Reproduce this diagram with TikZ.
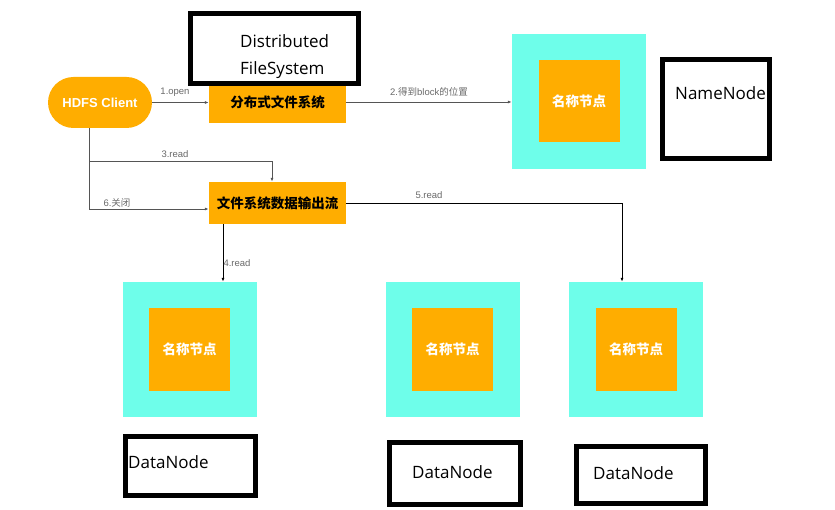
\documentclass[tikz,border=0pt]{standalone}
\usepackage{fontspec}
\setmainfont{Liberation Sans}
\newfontfamily\cjk{Noto Sans CJK SC}
\newfontfamily\tagfont{Open Sans}
\usetikzlibrary{positioning,arrows.meta}

\definecolor{hdfsorange}{RGB}{255,173,0}
\definecolor{hdfscyan}{RGB}{110,254,234}
\definecolor{linegray}{RGB}{85,85,85}
\definecolor{labelgray}{RGB}{105,105,105}

\tikzstyle{client} = [rectangle, rounded corners=25.5pt, fill=hdfsorange, text=white, inner sep=0pt, minimum width=104pt, minimum height=51pt, font=\fontsize{13}{15}\selectfont\bfseries]
\tikzstyle{proc} = [rectangle, fill=hdfsorange, inner sep=0pt, minimum width=137pt, minimum height=42pt, font=\fontsize{13.5}{16}\selectfont\cjk\bfseries]
\tikzstyle{outer} = [rectangle, fill=hdfscyan, inner sep=0pt, minimum width=134pt, minimum height=135pt]
\tikzstyle{inner} = [rectangle, fill=hdfsorange, text=white, inner sep=0pt, minimum width=81pt, minimum height=82pt, font=\fontsize{13.5}{16}\selectfont\cjk\bfseries]
\tikzstyle{tag} = [draw, rectangle, line width=5pt, fill=white, inner sep=0pt]
\tikzstyle{tagtext} = [anchor=west, inner sep=0pt, font=\tagfont\fontsize{17}{20}\selectfont]
\tikzstyle{lbl} = [inner sep=0pt, text=labelgray, font=\fontsize{9.5}{11}\selectfont]
\tikzstyle{flow} = [->, line width=.8pt]

\begin{document}
\begin{tikzpicture}[x=1pt,y=-1pt,>={Latex[length=4pt,width=3pt]}]
  \useasboundingbox (0,0) rectangle (835,510);

  % top row
  \node [client] (client) at (100,102.5) {HDFS Client};
  \node [proc] (fs) at (277.5,102) {分布式文件系统};
  \node [proc] (out) at (277.5,203) {文件系统数据输出流};

  \node [outer] (nn) at (579,101.5) {};
  \node [inner] (nn_in) at (nn) {名称节点};

  % data nodes
  \node [outer] (dn1) at (189.5,349.5) {};
  \node [outer, right of=dn1, node distance=263pt] (dn2) {};
  \node [outer, right of=dn2, node distance=183.5pt] (dn3) {};
  \node [inner] (dn1_in) at (dn1) {名称节点};
  \node [inner] (dn2_in) at (dn2) {名称节点};
  \node [inner] (dn3_in) at (dn3) {名称节点};

  % black tags
  \node [tag, minimum width=168pt, minimum height=70pt] (fs_tag) at (274.5,48.5) {};
  \node [tagtext] (fs_t1) at (240,41) {Distributed};
  \node [tagtext] (fs_t2) at (240,70) {FileSystem};

  \node [tag, minimum width=107pt, minimum height=99pt] (nn_tag) at (715.5,109.5) {};
  \node [tagtext] (nn_t) at (675,93) {NameNode};

  \node [tag, minimum width=130pt, minimum height=59pt] (dn1_tag) at (190.5,466) {};
  \node [tag, minimum width=131pt, minimum height=62pt] (dn2_tag) at (455,473.5) {};
  \node [tag, minimum width=129pt, minimum height=57pt] (dn3_tag) at (641,475) {};
  \node [tagtext] (dn1_t) at (128,462) {DataNode};
  \node [tagtext] (dn2_t) at (412,472) {DataNode};
  \node [tagtext] (dn3_t) at (593,473) {DataNode};

  \coordinate (cl_b) at ([xshift=-11pt]client.south);
  \coordinate (fork) at (cl_b |- 0,161);

  \draw [flow,linegray] (client.east) -- (client.east -| fs.west);
  \draw [flow,linegray] (fs.east) -- (fs.east -| nn.west);
  \draw [flow,linegray] (cl_b) |- ([yshift=-6pt]out.west);
  \draw [flow,linegray] (fork) -| ([xshift=-5.5pt]out.north);
  \draw [flow] (out.east) -| ([xshift=-14pt]dn3.north);
  \draw [flow] ([xshift=-54.5pt]out.south) -- ([xshift=-54.5pt]out.south |- dn1.north);

  \node [lbl] (l_open) at (175,92) {1.open};
  \node [lbl] (l_block) at (429,92) {2.{\cjk 得到}block{\cjk 的位置}};
  \node [lbl] (l_read3) at (175,154) {3.read};
  \node [lbl] (l_read4) at (237,263) {4.read};
  \node [lbl] (l_read5) at (429,195) {5.read};
  \node [lbl] (l_close) at (117,203) {6.{\cjk 关闭}};
\end{tikzpicture}
\end{document}
